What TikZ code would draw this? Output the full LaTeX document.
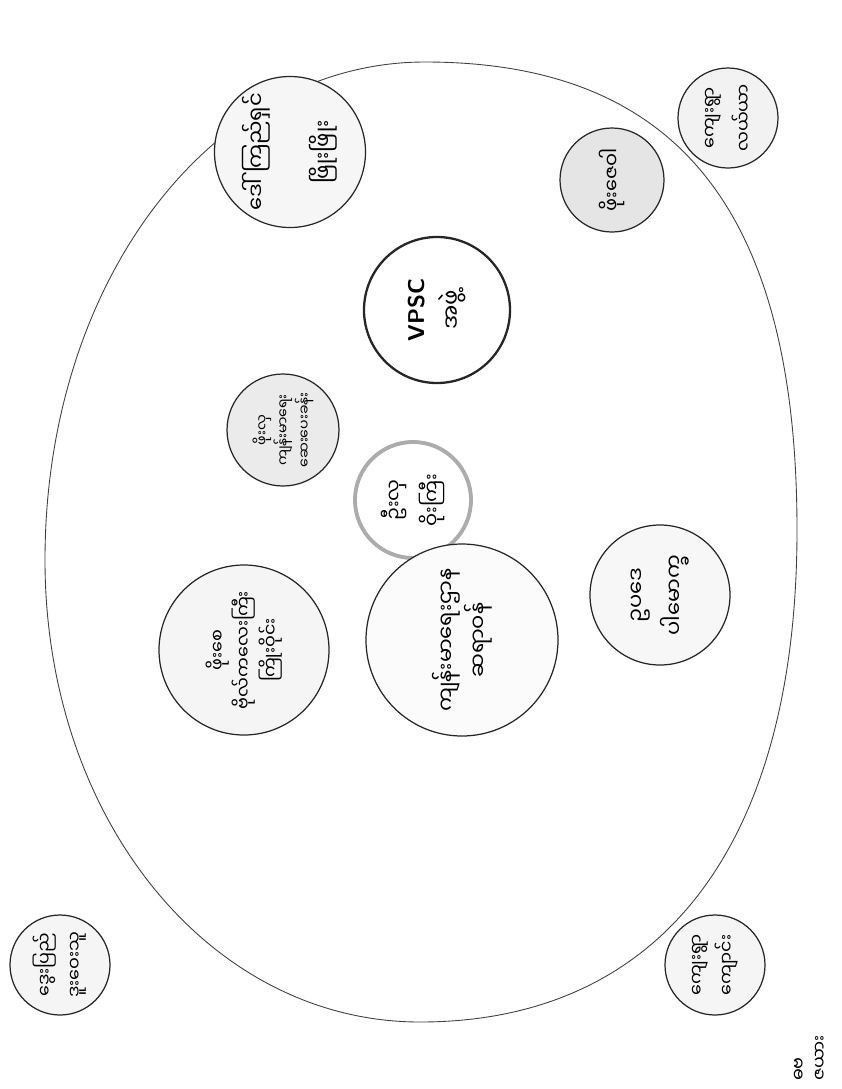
\documentclass[tikz,border=0pt]{standalone}
\usepackage{fontspec}
\usepackage{xcolor}
\usepackage{tikz}
\newfontfamily\mmfont[Script=Myanmar]{Noto Sans Myanmar UI}

\tikzset{
  grp/.style={circle, draw=black!85, line width=0.7pt, fill=gray!10, rotate=90,
    align=center, inner sep=0pt, font=\mmfont\fontsize{11}{22}\selectfont},
  grpw/.style={grp, fill=white}
}

\begin{document}
\begin{tikzpicture}[x=0.02cm, y=-0.02cm]
\useasboundingbox (0,0) rectangle (842,1089);
\fill[white] (0,0) rectangle (842,1089);

% big ring
\draw[black!75, line width=0.5pt] (425,62) .. controls (678,62) and (797,212) .. (797,530)
  .. controls (797,845) and (661,1022) .. (420,1022)
  .. controls (210,1022) and (45,819) .. (45,560)
  .. controls (45,281) and (212,62) .. (425,62);

\node[grp, minimum size=100*0.02cm, font=\mmfont\fontsize{10}{19}\selectfont] (vill1) at (728,118) {ကျေးရွာ\\လယ်ယာ};
\node[grp, fill=gray!20, minimum size=104*0.02cm] (phyo) at (612,180) {ဖိုးဇေဝါ};
\node[grp, fill=gray!7, minimum size=150*0.02cm, font=\mmfont\fontsize{12}{38}\selectfont] (daw) at (290,152) {ဒေါ်ကြည်ရှင်\\ဖြိုးဖြိုး};
\node[grpw, line width=1.3pt, minimum size=146*0.02cm, font=\mmfont\fontsize{13}{20}\selectfont] (vpsc) at (437,310) {{\sffamily\bfseries VPSC}\\အဖွဲ့};
\node[grp, fill=gray!16, minimum size=112*0.02cm, font=\mmfont\fontsize{8}{12}\selectfont] (health) at (283,430) {ဖိုးလှ\\ကျန်းမာရေး\\ဆေးပေးခန်း};
\node[grpw, draw=gray!65, line width=2.2pt, minimum size=116*0.02cm] (u) at (413,500) {ဦးလှ\\ဝိုးကြီး};
\node[grp, fill=gray!6, minimum size=140*0.02cm, font=\mmfont\fontsize{12}{22}\selectfont] (law) at (660,595) {ဥပဒေ\\ပါမောက္ခ};
\node[grp, fill=gray!3, minimum size=192*0.02cm, font=\mmfont\fontsize{12}{18}\selectfont] (clinic) at (462,640) {ကျန်းမာရေးဌာန\\ဆရာဝန်};
\node[grp, fill=gray!8, minimum size=170*0.02cm, font=\mmfont\fontsize{10}{15}\selectfont] (bogyi) at (244,650) {ဖိုးစေ\\ဗိုလ်ကလေးကြီး\\ကြိုးဝိုင်း};
\node[grp, fill=gray!8, minimum size=100*0.02cm, font=\mmfont\fontsize{10}{17}\selectfont] (dwe) at (60,965) {ဒွေးပြည်\\ဒူးဝေးသူ};
\node[grp, fill=gray!8, minimum size=100*0.02cm, font=\mmfont\fontsize{10}{17}\selectfont] (vill2) at (715,965) {ကျေးရွာ\\ကျောင်း};

\node[rotate=90, align=left, font=\mmfont\fontsize{10}{12}\selectfont, inner sep=0pt] (note) at (810,1058) {ဓဗ\\ဇယား};
\end{tikzpicture}
\end{document}
